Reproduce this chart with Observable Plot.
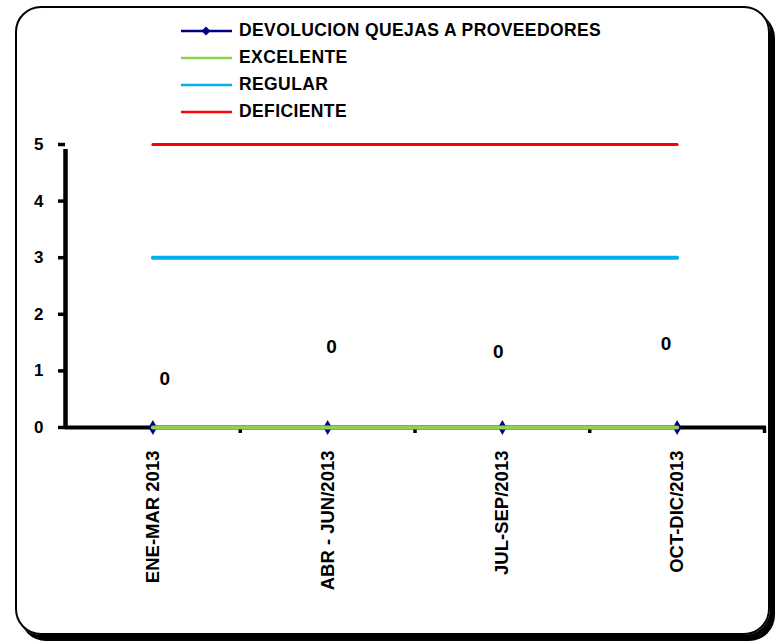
<!DOCTYPE html>
<html>
<head>
<meta charset="utf-8">
<script src="https://cdn.jsdelivr.net/npm/d3@7"></script>
<script src="https://cdn.jsdelivr.net/npm/@observablehq/plot@0.6"></script>
<style>
  html, body { margin: 0; padding: 0; background: #fff; }
  #wrap { position: relative; width: 776px; height: 644px; overflow: hidden; font-family: "Liberation Sans", Arial, sans-serif; }
  #wrap svg.plot { position: absolute; left: 0; top: 0; }
  #border { position: absolute; left: 15px; top: 6px; width: 755px; height: 629px; box-sizing: border-box;
            border: 2.5px solid #000; border-radius: 26px; box-shadow: 5px 6px 0 #000; pointer-events: none; }
  #legend { position: absolute; left: 180px; top: 17px; font-weight: bold; font-size: 17.5px; letter-spacing: 0.4px; color: #000; }
  .row { display: flex; align-items: center; height: 27px; }
  .row svg { width: 53px; height: 12px; margin-right: 6px; flex: none; }
</style>
</head>
<body>
<div id="wrap">
  <div id="legend"></div>
  <div id="border"></div>
</div>
<script>
// ---- data ----
const categories = ["ENE-MAR 2013", "ABR - JUN/2013", "JUL-SEP/2013", "OCT-DIC/2013"];
const devolucion = [0, 0, 0, 0];
const excelente = [0, 0, 0, 0];
const regular = [3, 3, 3, 3];
const deficiente = [5, 5, 5, 5];
const labelY = [0.85, 1.42, 1.33, 1.48];       // where the "0" value labels sit (in y units)
const labelShift = [12, 4, -4, -11];
const yTicks = [0, 1, 2, 3, 4, 5];
const seriesNames = ["DEVOLUCION QUEJAS A PROVEEDORES", "EXCELENTE", "REGULAR", "DEFICIENTE"];
const seriesColors = ["#000080", "#92D050", "#00B0F0", "#FF0000"];

const idx = categories.map((_, i) => i);
const rows = (vals) => vals.map((v, i) => ({i, v}));
const font = "Liberation Sans, Arial, sans-serif";

const plot = Plot.plot({
  width: 776,
  height: 644,
  marginLeft: 65,
  marginRight: 12,
  marginTop: 144,
  marginBottom: 217,
  style: {fontFamily: font, background: "transparent", overflow: "visible"},
  x: {type: "linear", domain: [-0.5, 3.5], axis: null, label: null},
  y: {domain: [0, 5], axis: null, label: null},
  marks: [
    // y axis ticks + labels
    Plot.axisY({ticks: yTicks, label: null, tickSize: 7, tickPadding: 15, strokeWidth: 3.5, fontSize: 17, fontWeight: "bold", fill: "#000", tickFormat: d => d}),
    // x axis boundary ticks
    Plot.axisX({ticks: [0.5, 1.5, 2.5, 3.5], label: null, tickSize: 6, strokeWidth: 3.5, tickFormat: () => ""}),
    // x axis category labels
    Plot.axisX({ticks: idx, label: null, tickSize: 0, tickPadding: 23, tickRotate: -90, fontSize: 18.5, fontWeight: "bold", fill: "#000", tickFormat: i => categories[i]}),
    // axis lines
    Plot.ruleX([-0.5], {y1: 0, y2: 5, stroke: "#000", strokeWidth: 4.5, insetBottom: -5}),
    Plot.ruleY([0], {x1: -0.5, x2: 3.5, stroke: "#000", strokeWidth: 4, insetRight: -2}),
    // series
    Plot.line(rows(devolucion), {x: "i", y: "v", stroke: seriesColors[0], strokeWidth: 2.5}),
    Plot.dot(rows(devolucion), {x: "i", y: "v", symbol: "diamond", r: 4.5, fill: seriesColors[0], stroke: "none"}),
    Plot.line(rows(excelente), {x: "i", y: "v", stroke: seriesColors[1], strokeWidth: 4}),
    Plot.line(rows(regular), {x: "i", y: "v", stroke: seriesColors[2], strokeWidth: 4}),
    Plot.line(rows(deficiente), {x: "i", y: "v", stroke: seriesColors[3], strokeWidth: 3}),
    // value labels
    ...idx.map(i => Plot.text([{i, y: labelY[i], t: devolucion[i]}], {
      x: "i", y: "y", text: d => String(d.t), dx: labelShift[i], fontSize: 19, fontWeight: "bold", fill: "#000"
    }))
  ]
});
plot.classList.add("plot");
document.getElementById("wrap").insertBefore(plot, document.getElementById("legend"));

// legend
const legend = document.getElementById("legend");
seriesNames.forEach((name, k) => {
  const row = document.createElement("div");
  row.className = "row";
  const marker = k === 0 ? `<path d="M26,1.5 L30.5,6 L26,10.5 L21.5,6 Z" fill="${seriesColors[k]}"/>` : "";
  row.innerHTML = `<svg viewBox="0 0 53 12"><line x1="1" x2="52" y1="6" y2="6" stroke="${seriesColors[k]}" stroke-width="2.5"/>${marker}</svg><span>${name}</span>`;
  legend.appendChild(row);
});
</script>
</body>
</html>
